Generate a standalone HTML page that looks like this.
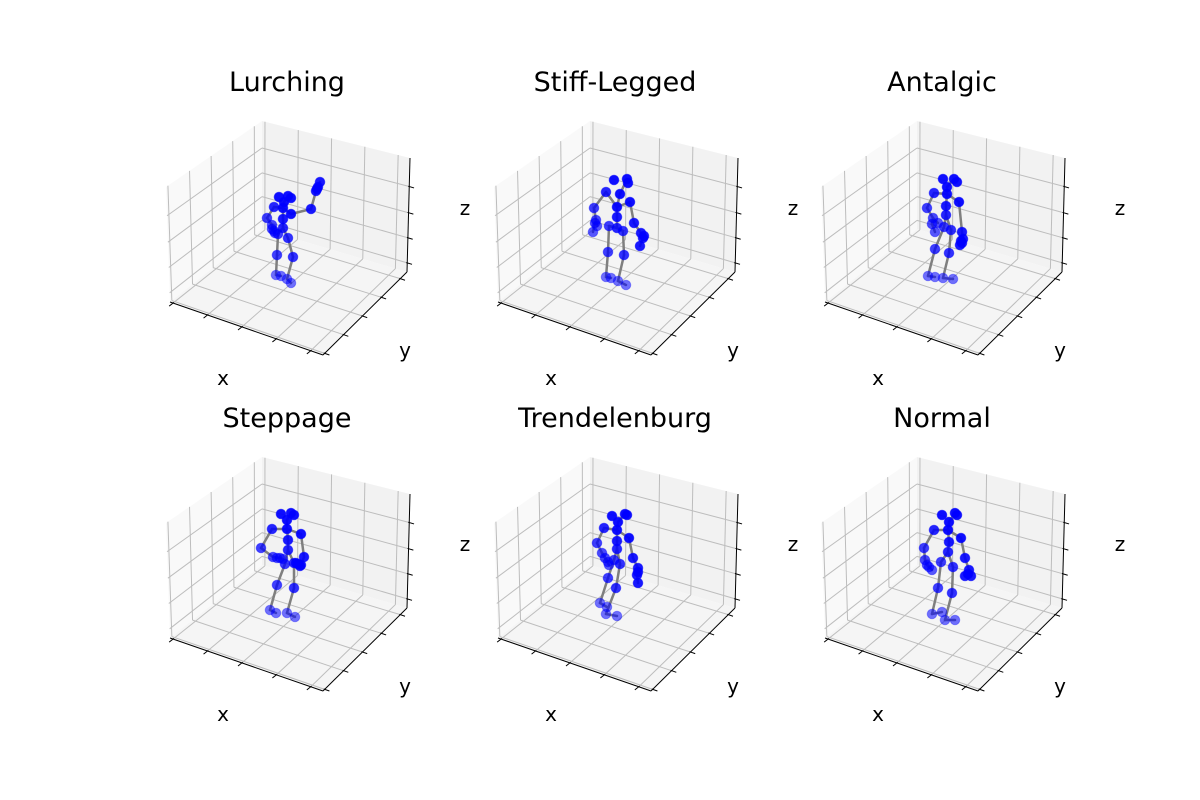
<!DOCTYPE html>
<html><head><meta charset="utf-8"><title>Gait skeletons</title>
<style>html,body{margin:0;padding:0;background:#fff;}svg{display:block;}</style></head>
<body>
<svg id="fig" width="1200" height="800" viewBox="0 0 1200 800" xmlns="http://www.w3.org/2000/svg" font-family="DejaVu Sans, Liberation Sans, sans-serif"></svg>
<script>
// ---- data ----
const panelTitles = ["Lurching","Stiff-Legged","Antalgic","Steppage","Trendelenburg","Normal"];
// joint positions per panel: [horizontal, height] in panel-local units (projected view)
const lurchingU = [123,123,124,128,114,107,112,112,131,151,156,158,118,117,116,121,128,133,127,131,123,115,114,160,157,119,131];
const lurchingH = [142,151,168,174,163,152,145,141,156,161,179,183,136,115,95,94,132,113,91,87,162,137,139,188,181,173,172];
const stiffU = [129,129,132,139,118,106,108,107,142,146,153,155,121,120,118,123,135,136,130,138,129,105,109,152,156,126,140];
const stiffH = [142,153,176,191,178,162,150,147,168,147,137,132,144,118,93,92,139,115,89,85,163,138,144,124,134,190,187];
const antalgicU = [131,131,132,139,119,112,118,117,144,147,148,147,129,120,113,120,136,134,128,138,132,120,123,145,146,128,142];
const antalgicH = [155,164,183,191,177,162,152,146,168,138,131,127,143,121,94,93,140,117,92,91,176,138,147,125,129,191,188];
const steppageU = [128,128,127,131,112,101,113,120,141,144,141,138,125,117,110,116,134,134,127,135,127,123,117,136,140,121,134];
const steppageH = [156,166,186,193,177,158,149,148,172,149,141,142,142,121,96,93,143,118,93,89,177,147,148,143,140,192,191];
const trendU = [129,129,130,137,116,109,114,117,141,145,150,149,126,120,112,119,132,128,118,129,129,121,120,150,150,124,139];
const trendH = [157,165,184,192,178,163,153,148,168,148,138,131,146,128,103,99,142,118,92,90,176,141,144,123,134,190,191];
const normalU = [133,134,134,140,119,109,110,112,146,150,154,150,126,123,117,127,138,137,130,140,133,117,114,156,153,127,142];
const normalH = [154,164,184,193,176,158,146,141,168,148,136,130,144,118,92,94,139,113,86,86,176,136,139,130,132,191,191];
const panelU = [lurchingU, stiffU, antalgicU, steppageU, trendU, normalU];
const panelH = [lurchingH, stiffH, antalgicH, steppageH, trendH, normalH];
const bones = [[3,2],[2,20],[20,1],[1,0],[20,4],[4,5],[5,6],[6,7],[7,21],[6,22],[20,8],[8,9],[9,10],[10,11],[11,23],[10,24],[0,12],[12,13],[13,14],[14,15],[0,16],[16,17],[17,18],[18,19]];
const jointAlpha = [0.85,0.9,0.95,0.95,0.85,0.75,0.7,0.7,0.95,0.9,0.9,0.9,0.75,0.75,0.55,0.55,0.8,0.8,0.55,0.55,0.95,0.65,0.65,0.9,0.9,0.95,0.95];
const xTicks = [0.02,0.245,0.47,0.695,0.92];
const yTicks = [0.02,0.245,0.47,0.695,0.92];
const zTicks = [0.08,0.30,0.52,0.75];

// ---- layout ----
const svg = document.getElementById('fig');
const NS = 'http://www.w3.org/2000/svg';
const colOff = [0,328,655], rowOff = [0,336];
const C = {L0:[170,302],L1:[166,187],B0:[262,229],B1:[262,121],R0:[407,272],R1:[410,158],F0:[323,355]};
function bil(p00,p10,p01,p11,s,t){
  return [(1-s)*(1-t)*p00[0]+s*(1-t)*p10[0]+(1-s)*t*p01[0]+s*t*p11[0],
          (1-s)*(1-t)*p00[1]+s*(1-t)*p10[1]+(1-s)*t*p01[1]+s*t*p11[1]];
}
function mk(tag, attrs, parent){
  const e = document.createElementNS(NS, tag);
  for (const k in attrs) e.setAttribute(k, attrs[k]);
  parent.appendChild(e); return e;
}
function pts(arr,ox,oy){return arr.map(p=>(p[0]+ox).toFixed(1)+','+(p[1]+oy).toFixed(1)).join(' ');}
function lerp(a,b,t){return [a[0]+(b[0]-a[0])*t,a[1]+(b[1]-a[1])*t];}

for (let p=0;p<6;p++){
  const ox = colOff[p%3], oy = rowOff[Math.floor(p/3)];
  const g = mk('g',{},svg);
  
  
  const paneL = mk('polygon',{points:pts([C.L0,C.B0,C.B1,C.L1],ox,oy),fill:'#f9f9f9'},g);
   
  const paneB = mk('polygon',{points:pts([C.B0,C.R0,C.R1,C.B1],ox,oy),fill:'#f2f2f2'},g);
   
  const paneF = mk('polygon',{points:pts([C.L0,C.F0,C.R0,C.B0],ox,oy),fill:'#f5f5f5'},g);
   
  const grid = mk('g',{stroke:'#bdbdbd','stroke-width':'1',fill:'none'},g);
   
  function line(a,b,parent,attrs){return mk('line',Object.assign({x1:a[0]+ox,y1:a[1]+oy,x2:b[0]+ox,y2:b[1]+oy},attrs||{}),parent);}
  xTicks.forEach(a=>{ line(bil(C.L0,C.F0,C.B0,C.R0,a,0),bil(C.L0,C.F0,C.B0,C.R0,a,1),grid);
                      line(bil(C.B0,C.R0,C.B1,C.R1,a,0),bil(C.B0,C.R0,C.B1,C.R1,a,1),grid); });
  yTicks.forEach(b=>{ line(bil(C.L0,C.F0,C.B0,C.R0,0,b),bil(C.L0,C.F0,C.B0,C.R0,1,b),grid);
                      line(bil(C.L0,C.B0,C.L1,C.B1,b,0),bil(C.L0,C.B0,C.L1,C.B1,b,1),grid); });
  zTicks.forEach(c=>{ line(bil(C.L0,C.B0,C.L1,C.B1,0,c),bil(C.L0,C.B0,C.L1,C.B1,1,c),grid);
                      line(bil(C.B0,C.R0,C.B1,C.R1,0,c),bil(C.B0,C.R0,C.B1,C.R1,1,c),grid); });
  const ax = mk('g',{stroke:'#000','stroke-width':'1'},g);
   
  line(C.L0,C.F0,ax); line(C.F0,C.R0,ax); line(C.R0,C.R1,ax);
  function unit(v){const l=Math.hypot(v[0],v[1]);return [v[0]/l,v[1]/l];}
  const dx = unit([C.L0[0]-C.B0[0],C.L0[1]-C.B0[1]]);
  const dy = unit([C.F0[0]-C.L0[0],C.F0[1]-C.L0[1]]);
  const dz = unit([C.R0[0]-C.B0[0],C.R0[1]-C.B0[1]]);
  xTicks.forEach(a=>{const q=lerp(C.L0,C.F0,a);line([q[0]-dx[0]*1,q[1]-dx[1]*1],[q[0]+dx[0]*5,q[1]+dx[1]*5],ax);});
  yTicks.forEach(b=>{const q=lerp(C.F0,C.R0,b);line([q[0]-dy[0]*1,q[1]-dy[1]*1],[q[0]+dy[0]*5,q[1]+dy[1]*5],ax);});
  zTicks.forEach(c=>{const q=lerp(C.R0,C.R1,c);line([q[0]-dz[0]*1,q[1]-dz[1]*1],[q[0]+dz[0]*5,q[1]+dz[1]*5],ax);});
  const xl = mk('text',{x:223+ox,y:385+oy,'font-size':'20','text-anchor':'middle'},g); xl.textContent='x';
   
  const yl = mk('text',{x:405+ox,y:357+oy,'font-size':'20','text-anchor':'middle'},g); yl.textContent='y';
   
  const zl = mk('text',{x:465+ox,y:215+oy,'font-size':'20','text-anchor':'middle'},g); zl.textContent='z';
   
  const tt = mk('text',{x:287+ox,y:91+oy,'font-size':'27','text-anchor':'middle'},g); tt.textContent=panelTitles[p];
   
  const U = panelU[p], H = panelH[p];
  const X = u => 160 + ox + u;
  const Y = h => 370 + oy - h;
  const sk = mk('g',{},g);
   
  bones.forEach(([a,b])=>{
    const l = mk('line',{x1:X(U[a]),y1:Y(H[a]),x2:X(U[b]),y2:Y(H[b]),stroke:'#7f7f7f','stroke-width':'2.5','stroke-linecap':'round'},sk);
    
    
  });
  const order = U.map((_,i)=>i).sort((a,b)=>jointAlpha[a]-jointAlpha[b]);
  order.forEach(i=>{
    const c = mk('circle',{cx:X(U[i]),cy:Y(H[i]),r:'4.8',fill:'#0000ff','fill-opacity':jointAlpha[i],stroke:'#0000ff','stroke-opacity':jointAlpha[i]*0.6,'stroke-width':'1'},sk);
    
    
  });
}
</script>
</body></html>
